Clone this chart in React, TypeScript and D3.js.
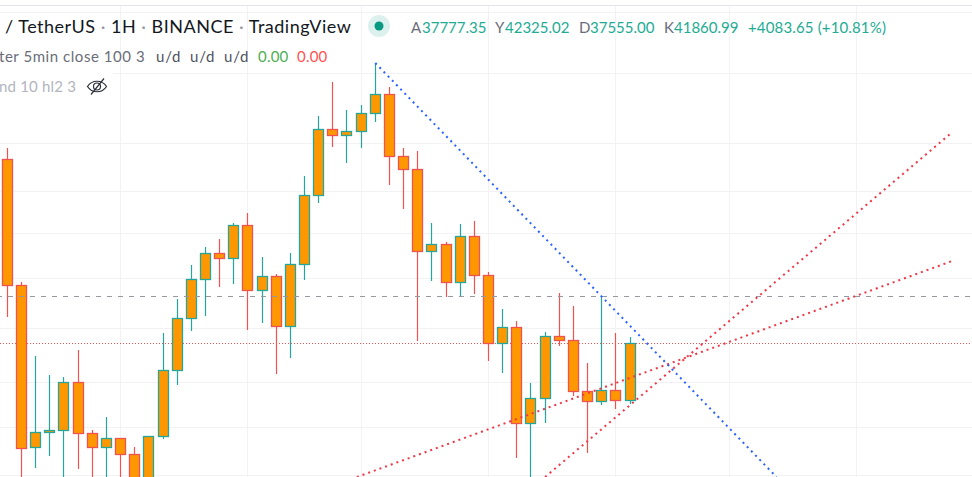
import React, { useEffect, useRef } from 'react';
import * as d3 from 'd3';

const width = 972;
const height = 477;

// candles, one entry per hour
const opens = [41335, 40075, 38455, 38605, 38625, 39105, 38595, 38455, 38545, 38385, 37930, 38565, 39225, 39745, 40135, 40395, 40345, 40675, 40025, 40165, 39665, 40285, 40975, 41635, 41575, 41615, 41795, 41985, 41365, 41235, 40415, 40485, 40105, 40565, 40175, 39495, 39655, 38695, 38945, 39565, 39525, 39015, 38915, 39025, 38925];
const highs = [41450, 40110, 39370, 39180, 39160, 39430, 38630, 38760, 38545, 38460, 38565, 39600, 39940, 40280, 40460, 40540, 40700, 40800, 40360, 40190, 40400, 41170, 41770, 42110, 41830, 41880, 42300, 42060, 41450, 41420, 40700, 40510, 40690, 40720, 40210, 39840, 39720, 39100, 39610, 40000, 39870, 39300, 39970, 39600, 39560];
const lows = [39760, 38030, 38250, 38370, 38030, 38240, 38030, 38030, 38030, 37800, 37800, 38540, 39080, 39620, 39770, 40060, 40090, 39630, 39700, 39190, 39350, 40130, 40900, 41460, 41300, 41450, 41710, 41080, 40840, 39520, 40120, 39960, 39970, 39990, 39320, 39200, 38350, 38030, 38700, 39470, 38970, 38400, 38880, 38840, 38890];
const closes = [40075, 38445, 38605, 38625, 39105, 38595, 38455, 38545, 38385, 37930, 38565, 39225, 39745, 40135, 40395, 40345, 40675, 40025, 40165, 39665, 40285, 40975, 41635, 41575, 41615, 41795, 41985, 41365, 41235, 40415, 40485, 40105, 40565, 40175, 39495, 39655, 38695, 38945, 39565, 39525, 39015, 38915, 39025, 38925, 39495];

// gridlines
const gridPrices = [42805, 42195, 41495, 41015, 40595, 40145, 39645, 39105, 38655, 38175];
const gridIndexes = [8, 17, 25, 34, 43, 51, 60];

// horizontal levels
const dashedLevel = 39965;
const dottedLevel = 39495;

// trend lines as [bar index, price]
const blueTrend: [number, number][] = [[26, 42300], [54.35, 38160]];
const redTrendFlat: [number, number][] = [[24.7, 38160], [66.9, 40327]];
const redTrendSteep: [number, number][] = [[38, 38160], [66.7, 41600]];

const ohlcLabels = [
  { key: 'A', value: '37777.35', x: 411, vx: 422 },
  { key: 'Y', value: '42325.02', x: 495, vx: 505 },
  { key: 'D', value: '37555.00', x: 579, vx: 590 },
  { key: 'K', value: '41860.99', x: 664, vx: 674 },
];
const changeLabel = '+4083.65 (+10.81%)';

const UP = '#26a69a';
const DOWN = '#ef5350';
const BODY = '#ff9800';
const GRID = '#f2f2f5';
const FONT = 'Lato, "Noto Sans", sans-serif';

export default function App() {
  const svgRef = useRef<SVGSVGElement>(null);

  useEffect(() => {
    const svg = d3.select(svgRef.current);
    svg.selectAll('*').remove();

    const xScale = d3.scaleLinear().domain([0, 60]).range([7.35, 856.47]);
    const yScale = d3.scaleLinear().domain([42930, 38160]).range([0, 477]);
    const px = (i: number) => Math.floor(xScale(i)) + 0.5;

    // Grid lines
    svg.append('line')
      .attr('x1', 0).attr('x2', width).attr('y1', 5.5).attr('y2', 5.5)
      .style('stroke', '#e3e3ee');

    svg.selectAll('.grid-y')
      .data(gridPrices)
      .enter()
      .append('line')
      .attr('class', 'grid-y')
      .attr('x1', d => (d === 42195 ? 113 : 0))
      .attr('x2', width)
      .attr('y1', d => yScale(d))
      .attr('y2', d => yScale(d))
      .style('stroke', GRID);

    svg.selectAll('.grid-x')
      .data(gridIndexes)
      .enter()
      .append('line')
      .attr('class', 'grid-x')
      .attr('x1', d => px(d))
      .attr('x2', d => px(d))
      .attr('y1', 6)
      .attr('y2', height)
      .style('stroke', GRID);

    // Dotted level sits behind the candles
    svg.append('line')
      .attr('x1', 0).attr('x2', width)
      .attr('y1', yScale(dottedLevel)).attr('y2', yScale(dottedLevel))
      .style('stroke', DOWN)
      .style('stroke-dasharray', '1 2');

    // Candles
    const candles = svg.selectAll('.candle')
      .data(opens.map((o, i) => ({ i, o, h: highs[i], l: lows[i], c: closes[i] })))
      .enter()
      .append('g')
      .attr('class', 'candle');

    candles.append('line')
      .attr('x1', d => px(d.i))
      .attr('x2', d => px(d.i))
      .attr('y1', d => yScale(d.h))
      .attr('y2', d => yScale(d.l))
      .style('stroke', d => (d.c >= d.o ? UP : DOWN))
      .style('stroke-width', 1.2);

    candles.append('rect')
      .attr('x', d => px(d.i) - 5)
      .attr('width', 10)
      .attr('y', d => yScale(Math.max(d.o, d.c)))
      .attr('height', d => Math.abs(yScale(d.o) - yScale(d.c)))
      .style('fill', BODY)
      .style('stroke', d => (d.c >= d.o ? UP : DOWN))
      .style('stroke-width', 1.3);

    // Dashed level
    svg.append('line')
      .attr('x1', 0).attr('x2', width)
      .attr('y1', yScale(dashedLevel)).attr('y2', yScale(dashedLevel))
      .style('stroke', '#9598a1')
      .style('stroke-dasharray', '5 6')
      .style('stroke-dashoffset', 3);

    // Trend lines
    const trend = d3.line<[number, number]>()
      .x(d => xScale(d[0]))
      .y(d => yScale(d[1]));

    [
      { points: redTrendFlat, color: '#f23645' },
      { points: redTrendSteep, color: '#f23645' },
      { points: blueTrend, color: '#2962ff' },
    ].forEach(t => {
      svg.append('path')
        .attr('d', trend(t.points))
        .style('fill', 'none')
        .style('stroke', t.color)
        .style('stroke-width', 2)
        .style('stroke-dasharray', '2 4');
    });

    // Legend
    const title = svg.append('text')
      .attr('x', 5)
      .attr('y', 33)
      .style('font-family', FONT)
      .style('font-size', '18px')
      .style('letter-spacing', '0.5px')
      .style('fill', '#131722');
    ['/ TetherUS', ' · ', '1H', ' · ', 'BINANCE', ' · ', 'TradingView'].forEach(s => {
      title.append('tspan')
        .style('fill', s === ' · ' ? '#9598a1' : '#131722')
        .text(s);
    });

    svg.append('circle').attr('cx', 379).attr('cy', 26).attr('r', 11).style('fill', '#dcf0ee');
    svg.append('circle').attr('cx', 379).attr('cy', 26).attr('r', 4.5).style('fill', '#089981');

    ohlcLabels.forEach(d => {
      svg.append('text').attr('x', d.x).attr('y', 33)
        .style('font-family', FONT).style('font-size', '15px').style('fill', '#6a6d78')
        .text(d.key);
      svg.append('text').attr('x', d.vx).attr('y', 33)
        .style('font-family', FONT).style('font-size', '15px').style('fill', '#22ab94')
        .text(d.value);
    });
    svg.append('text').attr('x', 748).attr('y', 33)
      .style('font-family', FONT).style('font-size', '15px').style('letter-spacing', '0.15px').style('fill', '#22ab94')
      .text(changeLabel);

    const row = (x: number, y: number, color: string, s: string, spacing = 0) =>
      svg.append('text').attr('x', x).attr('y', y)
        .style('font-family', FONT).style('font-size', '15px').style('letter-spacing', `${spacing}px`).style('fill', color)
        .text(s);

    row(-1, 62, '#6a6d78', 'ter 5min close 100 3', 0.55);
    row(156, 62, '#50535e', 'u/d', 0.8);
    row(190, 62, '#50535e', 'u/d', 0.8);
    row(224, 62, '#50535e', 'u/d', 0.8);
    row(258, 62, '#4caf50', '0.00', 0.2);
    row(297, 62, '#ff5252', '0.00', 0.2);
    row(-1, 92, '#b2b5be', 'nd 10 hl2 3', 0.2);

    // Hidden-indicator eye
    const eye = svg.append('g')
      .attr('transform', 'translate(97,86.5)')
      .style('fill', 'none')
      .style('stroke', '#2a2e39')
      .style('stroke-width', 1.2);
    eye.append('path').attr('d', 'M-9.5,0 C-5,-7 5,-7 9.5,0 C5,7 -5,7 -9.5,0 Z');
    eye.append('circle').attr('r', 3.5);
    eye.append('line').attr('x1', -6).attr('y1', 8).attr('x2', 7).attr('y2', -8);
  }, []);

  return (
    <svg
      ref={svgRef}
      width={width}
      height={height}
      style={{ position: 'absolute', left: 0, top: 0, display: 'block', background: '#fff' }}
    />
  );
}
